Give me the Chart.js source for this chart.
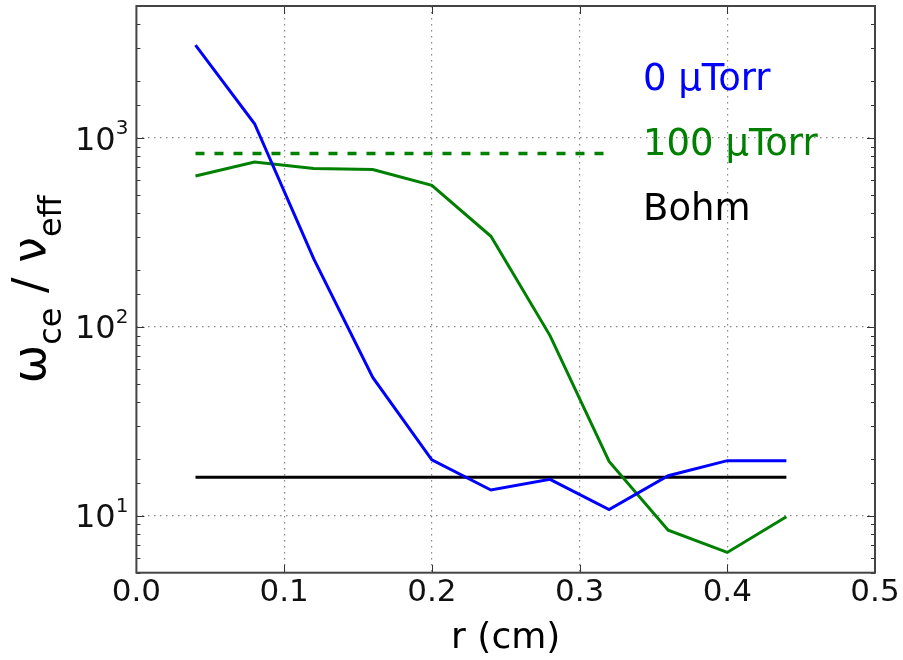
<!DOCTYPE html>
<html lang="en">
<head>
  <meta charset="UTF-8" />
  <title>wce / veff vs r</title>
  <script src="https://cdn.jsdelivr.net/npm/chart.js"></script>
  <style>
    html, body { margin: 0; padding: 0; background: #fff; }
    canvas { display: block; }
  </style>
</head>
<body>
  <canvas id="chart" width="903" height="660"></canvas>

  <script>
    // values
    const radius = [0.04, 0.08, 0.12, 0.16, 0.20, 0.24, 0.28, 0.32, 0.36, 0.40, 0.44];
    const torr0 = [3100, 1190, 230, 54, 19.8, 13.7, 15.6, 10.8, 16.3, 19.6, 19.6];
    const torr100 = [630, 747, 690, 681, 562, 302, 90, 19.4, 8.4, 6.4, 9.9];
    const dashedX = [0.04, 0.32];
    const dashedY = [827, 827];
    const bohmX = [0.04, 0.44];
    const bohmY = [16, 16];
    const xTicks = [0.0, 0.1, 0.2, 0.3, 0.4, 0.5];
    const yMajor = [10, 100, 1000];
    const legendLabels = ["0 \u03bcTorr", "100 \u03bcTorr", "Bohm"];
    const legendColors = ["#0000ff", "#008000", "#000000"];

    const FONT = "'DejaVu Sans', sans-serif";
    const toPoints = (xs, ys) => xs.map((x, i) => ({ x, y: ys[i] }));
    const isDecade = v => Math.abs(Math.log10(v) - Math.round(Math.log10(v))) < 1e-9;

    const decorations = {
      id: "decorations",
      afterDraw(chart) {
        const { ctx, chartArea: a, scales: { x, y } } = chart;
        ctx.save();

        // inward tick marks on all four sides
        ctx.strokeStyle = "#333";
        ctx.lineWidth = 1;
        ctx.beginPath();
        y.ticks.forEach(t => {
          const py = Math.round(y.getPixelForValue(t.value)) + 0.5;
          const len = isDecade(t.value) ? 8 : 4;
          ctx.moveTo(a.left, py); ctx.lineTo(a.left + len, py);
          ctx.moveTo(a.right, py); ctx.lineTo(a.right - len, py);
        });
        xTicks.forEach(v => {
          const px = Math.round(x.getPixelForValue(v)) + 0.5;
          ctx.moveTo(px, a.bottom); ctx.lineTo(px, a.bottom - 8);
          ctx.moveTo(px, a.top); ctx.lineTo(px, a.top + 8);
        });
        ctx.stroke();

        // frame
        ctx.strokeStyle = "#444";
        ctx.lineWidth = 2;
        ctx.strokeRect(a.left, a.top, a.right - a.left, a.bottom - a.top);

        // y tick labels as 10^n
        ctx.fillStyle = "#111";
        ctx.textBaseline = "alphabetic";
        yMajor.forEach(v => {
          const py = y.getPixelForValue(v);
          const exp = String(Math.round(Math.log10(v)));
          ctx.font = "20px " + FONT;
          const ew = ctx.measureText(exp).width;
          const right = a.left - 8;
          ctx.textAlign = "left";
          ctx.fillText(exp, right - ew, py - 4);
          ctx.font = "32px " + FONT;
          ctx.textAlign = "right";
          ctx.fillText("10", right - ew, py + 11.5);
        });

        // y axis title with subscripts
        const parts = [
          ["\u03c9", 46, 0], ["ce", 32, 16], [" / ", 46, 0], ["\u03bd", 46, 0], ["eff", 32, 16]
        ];
        let total = 0;
        parts.forEach(p => { ctx.font = p[1] + "px " + FONT; total += ctx.measureText(p[0]).width; });
        ctx.translate(45, (a.top + a.bottom) / 2);
        ctx.rotate(-Math.PI / 2);
        ctx.textAlign = "left";
        ctx.fillStyle = "#000";
        let cx = -total / 2;
        parts.forEach(p => {
          ctx.font = p[1] + "px " + FONT;
          ctx.fillText(p[0], cx, p[2]);
          cx += ctx.measureText(p[0]).width;
        });
        ctx.setTransform(1, 0, 0, 1, 0, 0);

        // legend text inside the plot
        ctx.font = "37px " + FONT;
        ctx.textAlign = "left";
        legendLabels.forEach((txt, i) => {
          ctx.fillStyle = legendColors[i];
          ctx.fillText(txt, 643, 90 + i * 65);
        });

        ctx.restore();
      }
    };

    new Chart(document.getElementById("chart").getContext("2d"), {
      type: "line",
      data: {
        datasets: [
          { label: legendLabels[0], data: toPoints(radius, torr0), borderColor: "#0000ff", borderWidth: 3 },
          { label: legendLabels[1], data: toPoints(radius, torr100), borderColor: "#008000", borderWidth: 3 },
          { label: "100 dashed", data: toPoints(dashedX, dashedY), borderColor: "#008000", borderWidth: 3.5, borderDash: [9, 10] },
          { label: legendLabels[2], data: toPoints(bohmX, bohmY), borderColor: "#000000", borderWidth: 3 }
        ]
      },
      options: {
        responsive: false,
        animation: false,
        devicePixelRatio: 1,
        layout: { padding: { left: 0, right: 28, top: 6, bottom: 0 } },
        elements: { point: { radius: 0 }, line: { tension: 0 } },
        plugins: { legend: { display: false }, tooltip: { enabled: false } },
        scales: {
          x: {
            type: "linear",
            min: 0,
            max: 0.5,
            afterBuildTicks: s => { s.ticks = xTicks.map(v => ({ value: v })); },
            afterFit: s => { s.height = 87.3; },
            ticks: {
              callback: v => v.toFixed(1),
              font: { size: 31, family: FONT },
              color: "#111",
              padding: 2,
              maxRotation: 0
            },
            grid: {
              drawTicks: false,
              lineWidth: 1.2,
              color: c => (c.tick && (c.tick.value === 0 || c.tick.value === 0.5)) ? "rgba(0,0,0,0)" : "#888"
            },
            border: { display: false, dash: [1.5, 4.5] },
            title: {
              display: true,
              text: "r (cm)",
              font: { size: 36, family: FONT },
              color: "#000",
              padding: { top: 0, bottom: 0 }
            }
          },
          y: {
            type: "logarithmic",
            min: 5,
            max: 5000,
            afterFit: s => { s.width = 136.4; },
            ticks: { display: false },
            grid: {
              drawTicks: false,
              lineWidth: 1.2,
              color: c => (c.tick && isDecade(c.tick.value)) ? "#888" : "rgba(0,0,0,0)"
            },
            border: { display: false, dash: [1.5, 4.5] }
          }
        }
      },
      plugins: [decorations]
    });
  </script>
</body>
</html>
